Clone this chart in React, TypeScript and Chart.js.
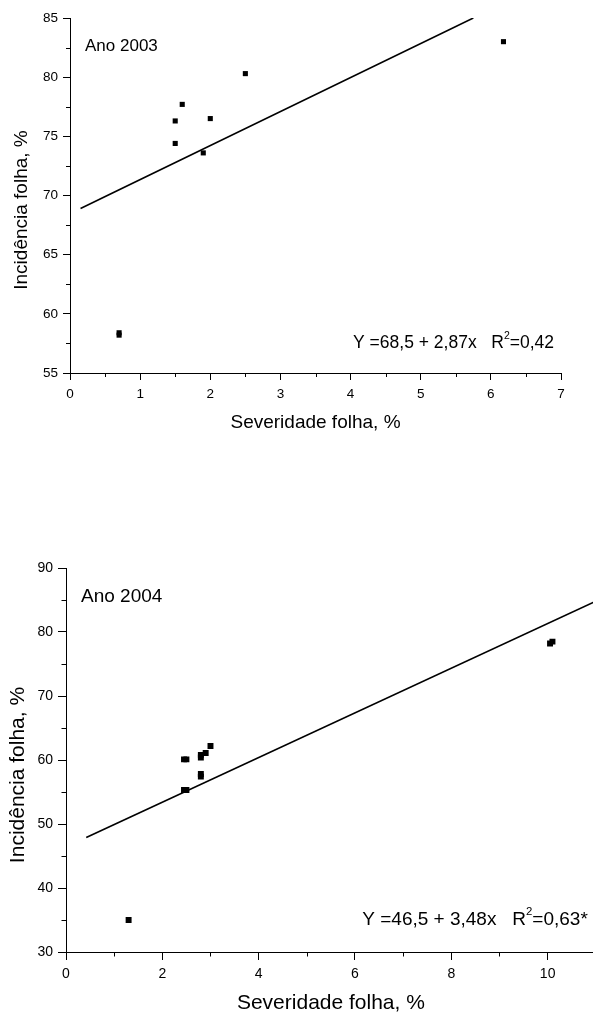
import React, { useEffect, useRef } from "react";
import { Chart, registerables } from "chart.js";

Chart.register(...registerables);

const FONT = "'Liberation Sans', Arial, Helvetica, sans-serif";

// ---- Ano 2003 ----
const severity2003 = [0.7, 0.7, 1.5, 1.5, 1.6, 1.9, 2.0, 2.5, 6.18];
const incidence2003 = [58.2, 58.4, 74.4, 76.3, 77.7, 73.6, 76.5, 80.3, 83.0];
const trend2003X = [0.15, 5.75];
const trend2003Y = [68.9, 85.0];
const label2003 = "Ano 2003";
const eq2003 = ["Y =68,5 + 2,87x   R", "2", "=0,42"];

// ---- Ano 2004 ----
const severity2004 = [1.3, 2.45, 2.5, 2.45, 2.5, 2.8, 2.8, 2.8, 2.8, 2.9, 3.0, 10.05, 10.1];
const incidence2004 = [35.0, 60.1, 60.1, 55.3, 55.3, 60.4, 60.8, 57.4, 57.8, 61.1, 62.2, 78.2, 78.5];
const trend2004X = [0.42, 11];
const trend2004Y = [47.9, 84.8];
const label2004 = "Ano 2004";
const eq2004 = ["Y =46,5 + 3,48x   R", "2", "=0,63*"];

const xTitle = "Severidade folha, %";
const yTitle = "Incidência folha, %";

const annotPlugin = {
  id: "annot",
  afterDraw(chart: any, _args: any, opts: any) {
    const { ctx, chartArea } = chart;
    const items = opts.items || [];
    items.forEach((item: any) => {
      ctx.save();
      ctx.fillStyle = "#000";
      ctx.textBaseline = "middle";
      ctx.textAlign = "left";
      const supSize = item.size * 0.6;
      const widths: number[] = [];
      let total = 0;
      item.parts.forEach((p: any) => {
        ctx.font = `${p.sup ? supSize : item.size}px ${FONT}`;
        const w = ctx.measureText(p.text).width;
        widths.push(w);
        total += w;
      });
      let x = item.anchor === "left" ? chartArea.left + item.dx : chartArea.right - item.dx - total;
      const y = item.from === "top" ? chartArea.top + item.dy : chartArea.bottom - item.dy;
      item.parts.forEach((p: any, i: number) => {
        ctx.font = `${p.sup ? supSize : item.size}px ${FONT}`;
        ctx.fillText(p.text, x, p.sup ? y - item.size * 0.42 : y);
        x += widths[i];
      });
      ctx.restore();
    });
    const yt = opts.yTitle;
    if (yt) {
      ctx.save();
      ctx.fillStyle = "#000";
      ctx.font = `${yt.size}px ${FONT}`;
      ctx.textAlign = "center";
      ctx.textBaseline = "middle";
      ctx.translate(yt.x, (chartArea.top + chartArea.bottom) / 2 + yt.dy);
      ctx.rotate(-Math.PI / 2);
      ctx.fillText(yt.text, 0, 0);
      ctx.restore();
    }
  },
};

const minorTickPlugin = {
  id: "minorTicks",
  afterDraw(chart: any, _args: any, opts: any) {
    const { ctx, chartArea, scales } = chart;
    ctx.save();
    ctx.strokeStyle = "#000";
    ctx.lineWidth = 1;
    const isMajor = (v: number, m: number) => Math.abs(v / m - Math.round(v / m)) < 1e-6;
    const xs = scales.x;
    for (let i = 0; ; i++) {
      const v = xs.min + i * opts.xStep;
      if (v > xs.max + 1e-9) break;
      if (isMajor(v, opts.xMajor)) continue;
      const px = Math.round(xs.getPixelForValue(v)) + 0.5;
      ctx.beginPath();
      ctx.moveTo(px, chartArea.bottom);
      ctx.lineTo(px, chartArea.bottom + opts.length);
      ctx.stroke();
    }
    const ys = scales.y;
    for (let i = 0; ; i++) {
      const v = ys.min + i * opts.yStep;
      if (v > ys.max + 1e-9) break;
      if (isMajor(v, opts.yMajor)) continue;
      const py = Math.round(ys.getPixelForValue(v)) + 0.5;
      ctx.beginPath();
      ctx.moveTo(chartArea.left, py);
      ctx.lineTo(chartArea.left - opts.length, py);
      ctx.stroke();
    }
    ctx.restore();
  },
};

function buildConfig(p: any) {
  const points = p.xs.map((x: number, i: number) => ({ x, y: p.ys[i] }));
  const trend = p.tx.map((x: number, i: number) => ({ x, y: p.ty[i] }));
  return {
    type: "scatter",
    data: {
      datasets: [
        {
          type: "scatter",
          data: points,
          pointStyle: "rect",
          pointRadius: p.pointRadius,
          backgroundColor: "#000",
          borderWidth: 0,
          order: 1,
        },
        {
          type: "line",
          data: trend,
          borderColor: "#000",
          borderWidth: 1.6,
          pointRadius: 0,
          fill: false,
          tension: 0,
          order: 2,
        },
      ],
    },
    options: {
      animation: false,
      responsive: false,
      devicePixelRatio: 1,
      layout: { padding: p.padding },
      plugins: {
        legend: { display: false },
        tooltip: { enabled: false },
        annot: { items: p.items, yTitle: p.yTitle },
        minorTicks: p.minor,
      },
      scales: {
        x: {
          type: "linear",
          min: p.xMin,
          max: p.xMax,
          afterFit: (s: any) => {
            s.height = p.xHeight;
          },
          ticks: {
            stepSize: p.xStep,
            includeBounds: false,
            padding: p.xTickPad,
            color: "#000",
            font: { family: FONT, size: p.tickSize },
            maxRotation: 0,
          },
          grid: { drawOnChartArea: false, drawTicks: true, tickLength: p.tickLen, color: "#000", tickColor: "#000" },
          border: { display: true, color: "#000", width: 1 },
          title: {
            display: true,
            text: xTitle,
            color: "#000",
            font: { family: FONT, size: p.titleSize },
            padding: { top: 0, bottom: p.xTitlePad },
          },
        },
        y: {
          type: "linear",
          min: p.yMin,
          max: p.yMax,
          afterFit: (s: any) => {
            s.width = p.yWidth;
          },
          ticks: {
            stepSize: p.yStep,
            includeBounds: false,
            padding: p.yTickPad,
            color: "#000",
            font: { family: FONT, size: p.tickSize },
          },
          grid: { drawOnChartArea: false, drawTicks: true, tickLength: p.tickLen, color: "#000", tickColor: "#000" },
          border: { display: true, color: "#000", width: 1 },
        },
      },
    },
    plugins: [annotPlugin, minorTickPlugin],
  } as any;
}

export default function App() {
  const c1 = useRef<HTMLCanvasElement>(null);
  const c2 = useRef<HTMLCanvasElement>(null);

  useEffect(() => {
    const chart1 = new Chart(
      c1.current as HTMLCanvasElement,
      buildConfig({
        xs: severity2003,
        ys: incidence2003,
        tx: trend2003X,
        ty: trend2003Y,
        pointRadius: 3.6,
        padding: { left: 0, top: 18, right: 32, bottom: 0 },
        xMin: 0,
        xMax: 7,
        xStep: 1,
        yMin: 55,
        yMax: 85,
        yStep: 5,
        xHeight: 67,
        yWidth: 70,
        tickLen: 7,
        xTickPad: 6,
        yTickPad: 5,
        tickSize: 13.5,
        titleSize: 19,
        xTitlePad: 5.6,
        minor: { xStep: 0.5, xMajor: 1, yStep: 2.5, yMajor: 5, length: 4 },
        yTitle: { text: yTitle, size: 19, x: 21.5, dy: 14.5 },
        items: [
          { parts: [{ text: label2003 }], anchor: "left", dx: 15, from: "top", dy: 28, size: 17 },
          {
            parts: [{ text: eq2003[0] }, { text: eq2003[1], sup: true }, { text: eq2003[2] }],
            anchor: "right",
            dx: 7,
            from: "bottom",
            dy: 30,
            size: 17.5,
          },
        ],
      })
    );
    const chart2 = new Chart(
      c2.current as HTMLCanvasElement,
      buildConfig({
        xs: severity2004,
        ys: incidence2004,
        tx: trend2004X,
        ty: trend2004Y,
        pointRadius: 4.2,
        padding: { left: 0, top: 28, right: 2, bottom: 0 },
        xMin: 0,
        xMax: 11,
        xStep: 2,
        yMin: 30,
        yMax: 90,
        yStep: 10,
        xHeight: 68,
        yWidth: 66,
        tickLen: 8,
        xTickPad: 5.6,
        yTickPad: 5,
        tickSize: 14,
        titleSize: 21,
        xTitlePad: 3.7,
        minor: { xStep: 1, xMajor: 2, yStep: 5, yMajor: 10, length: 4.5 },
        yTitle: { text: yTitle, size: 21, x: 18, dy: 15 },
        items: [
          { parts: [{ text: label2004 }], anchor: "left", dx: 15, from: "top", dy: 29, size: 19 },
          {
            parts: [{ text: eq2004[0] }, { text: eq2004[1], sup: true }, { text: eq2004[2] }],
            anchor: "right",
            dx: 8,
            from: "bottom",
            dy: 32,
            size: 19,
          },
        ],
      })
    );
    return () => {
      chart1.destroy();
      chart2.destroy();
    };
  }, []);

  return (
    <div
      style={{
        position: "absolute",
        left: 0,
        top: 0,
        width: 593,
        height: 1013,
        overflow: "hidden",
        background: "#fff",
      }}
    >
      <canvas ref={c1} width={593} height={440} style={{ position: "absolute", left: 0, top: 0 }} />
      <canvas ref={c2} width={600} height={480} style={{ position: "absolute", left: 0, top: 540 }} />
    </div>
  );
}
